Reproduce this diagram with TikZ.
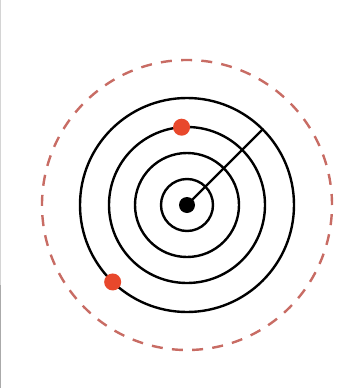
\documentclass[tikz,border=0pt]{standalone}
\definecolor{dashred}{RGB}{200,108,100}
\definecolor{dotred}{RGB}{232,72,44}
\definecolor{edgegray}{RGB}{170,170,170}
\begin{document}
\begin{tikzpicture}[x=1pt,y=-1pt,
  ring/.style={circle,draw=black,line width=2.4pt,inner sep=0pt,outer sep=0pt,minimum size=#1},
  guide/.style={circle,draw=dashred,line width=2.4pt,dash pattern=on 11pt off 9.25pt,inner sep=0pt,outer sep=0pt,minimum size=290pt},
  reddot/.style={circle,fill=dotred,inner sep=0pt,minimum size=17pt},
  hub/.style={circle,fill=black,inner sep=0pt,minimum size=16pt}]
\useasboundingbox[fill=white] (0,0) rectangle (360,388);
\draw[edgegray!50,line width=1pt] (0.5,0) -- (0.5,285);
\draw[edgegray,line width=1pt] (0.5,285) -- (0.5,388);
\coordinate (o) at (187,205);
\node[guide] (g) at (o) {};
\node[ring=214pt] (c4) at (o) {};
\node[ring=156pt] (c3) at (o) {};
\node[ring=104pt] (c2) at (o) {};
\node[ring=52pt] (c1) at (o) {};
\node[hub] (h) at (o) {};
\draw[line width=2.4pt] (h.center) -- (c4.45);
\node[reddot] (r1) at (c3.94) {};
\node[reddot] (r2) at (c4.226) {};
\end{tikzpicture}
\end{document}
